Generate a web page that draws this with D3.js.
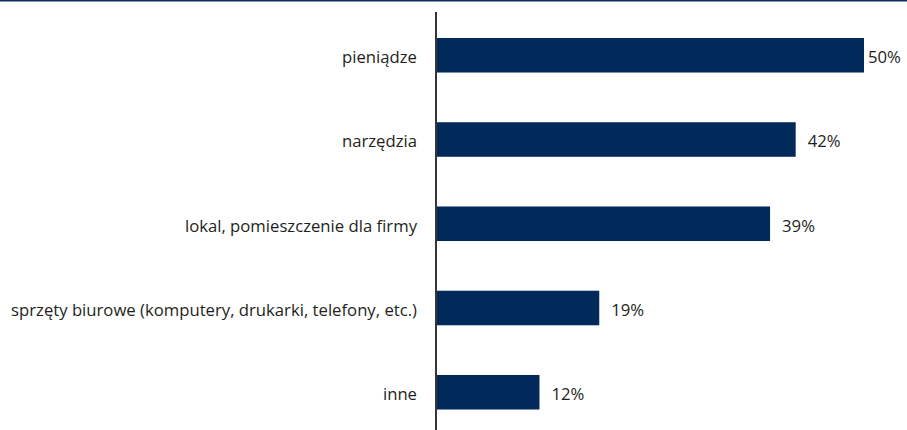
<!DOCTYPE html>
<html>
<head>
<meta charset="utf-8">
<script src="https://cdn.jsdelivr.net/npm/d3@7"></script>
<style>
  html, body { margin: 0; padding: 0; background: #fff; }
  svg { display: block; }
  .cat-label, .val-label { font-family: "Open Sans", "Noto Sans", sans-serif; font-size: 16.7px; fill: #231f20; }
</style>
</head>
<body>
<svg id="chart" width="907" height="430"></svg>
<script>
// ── Data ─────────────────────────────────────────────────────────────────────
const categories = [
  'pieniądze',
  'narzędzia',
  'lokal, pomieszczenie dla firmy',
  'sprzęty biurowe (komputery, drukarki, telefony, etc.)',
  'inne'
];
const values = [50, 42, 39, 19, 12];

const W = 907, H = 430;
const axisX = 436;
const barColor = '#012a5b';

const svg = d3.select('#chart');

// top rule
svg.append('rect')
  .attr('x', 0).attr('y', 0)
  .attr('width', W).attr('height', 1.5)
  .attr('fill', '#0a2f5c');

const x = d3.scaleLinear().domain([0, 50]).range([axisX + 1, 864]);
const y = d3.scaleBand().domain(categories).range([12.7, 434.8]).paddingInner(0.59).paddingOuter(0.3);

const rows = categories.map((c, i) => ({ cat: c, v: values[i] }));

// bars
svg.append('g').selectAll('rect')
  .data(rows)
  .enter().append('rect')
  .attr('x', x(0))
  .attr('y', d => y(d.cat))
  .attr('width', d => x(d.v) - x(0))
  .attr('height', y.bandwidth())
  .attr('fill', barColor);

// value labels
svg.append('g').selectAll('text')
  .data(rows)
  .enter().append('text')
  .attr('class', 'val-label')
  .attr('x', (d, i) => x(d.v) + (i === 0 ? 4 : 12))
  .attr('y', d => y(d.cat) + y.bandwidth() / 2)
  .attr('dy', '0.47em')
  .text(d => d.v + '%');

// category labels
svg.append('g').selectAll('text')
  .data(rows)
  .enter().append('text')
  .attr('class', 'cat-label')
  .attr('x', axisX - 19)
  .attr('y', d => y(d.cat) + y.bandwidth() / 2)
  .attr('dy', '0.47em')
  .attr('text-anchor', 'end')
  .text(d => d.cat);

// vertical axis
svg.append('line')
  .attr('x1', axisX).attr('x2', axisX)
  .attr('y1', 12).attr('y2', H)
  .attr('stroke', '#231f20')
  .attr('stroke-width', 1.8);
</script>
</body>
</html>
